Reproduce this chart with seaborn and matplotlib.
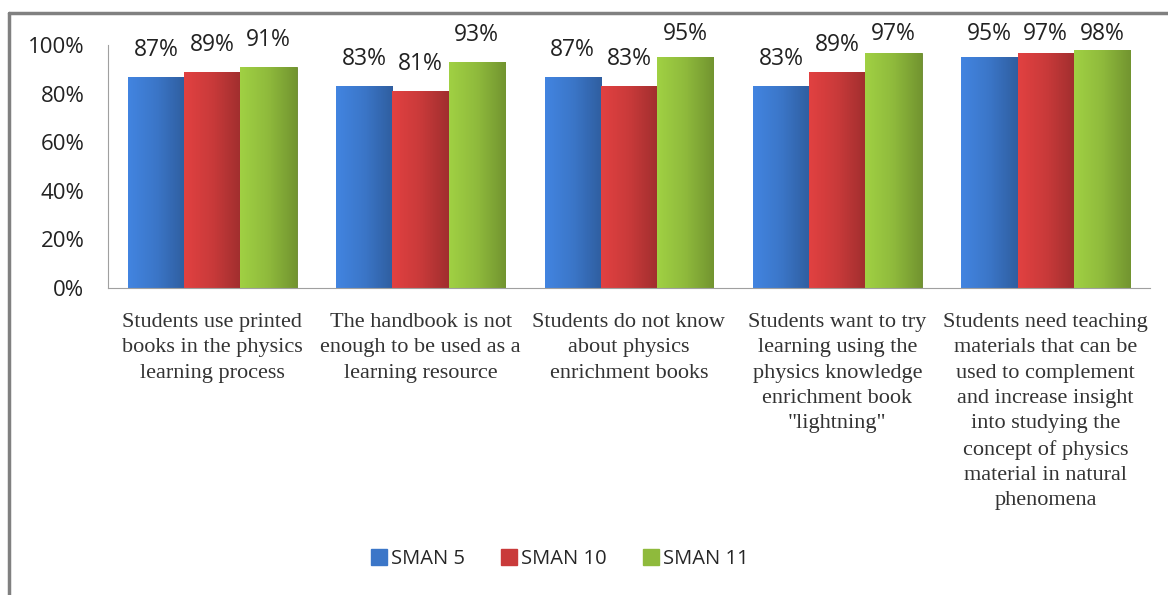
import pandas as pd
import numpy as np
import seaborn as sns
import matplotlib.pyplot as plt
from matplotlib.colors import LinearSegmentedColormap, to_rgb
from matplotlib.lines import Line2D

# data
statements = [
    'Students use printed\nbooks in the physics\nlearning process',
    'The handbook is not\nenough to be used as a\nlearning resource',
    'Students do not know\nabout physics\nenrichment books',
    'Students want to try\nlearning using the\nphysics knowledge\nenrichment book\n"lightning"',
    'Students need teaching\nmaterials that can be\nused to complement\nand increase insight\ninto studying the\nconcept of physics\nmaterial in natural\nphenomena',
]
schools = ['SMAN 5', 'SMAN 10', 'SMAN 11']
sman5 = [87, 83, 87, 83, 95]
sman10 = [89, 81, 83, 89, 97]
sman11 = [91, 93, 95, 97, 98]
colors = ['#3b76c8', '#c93a3a', '#8fba3c']

df = pd.DataFrame({
    'statement': statements * 3,
    'school': [s for s in schools for _ in statements],
    'pct': sman5 + sman10 + sman11,
})

sns.set_style('white')
plt.rcParams['font.family'] = ['Open Sans', 'DejaVu Sans']

fig = plt.figure(figsize=(11.68, 5.95), dpi=100)
ax = fig.add_axes([0.0925, 0.516, 0.892, 0.408])

sns.barplot(data=df, x='statement', y='pct', hue='school', palette=colors,
            width=0.81, saturation=1, ax=ax, legend=True)

# shade every bar with a left-to-right gradient, a bit like the office 3d look
for container, col in zip(ax.containers, colors):
    base = np.array(to_rgb(col))
    cmap = LinearSegmentedColormap.from_list(
        'g', [np.clip(base * 1.12, 0, 1), base, base * 0.8])
    for patch in container:
        x0, y0 = patch.get_x(), patch.get_y()
        w, h = patch.get_width(), patch.get_height()
        im = ax.imshow(np.linspace(0, 1, 50).reshape(1, -1), cmap=cmap,
                       extent=[x0, x0 + w, y0, y0 + h], aspect='auto',
                       zorder=patch.get_zorder() + 0.1)
        im.set_clip_path(patch)
        patch.set_edgecolor(base * 0.7)
        patch.set_linewidth(0.6)
    labels = ax.bar_label(container, fmt='%d%%', padding=11, fontsize=16.5,
                          color='#222222')
    # excel keeps the labels inside the plot area, so the tall ones stack at the top
    for lab in labels:
        x, y = lab.xy
        lab.xy = (x, min(y, 93.5))

ax.set_xlim(-0.5, 4.5)
ax.set_ylim(0, 100)
ax.set_yticks([0, 20, 40, 60, 80, 100])
ax.set_yticklabels([f'{v}%' for v in range(0, 101, 20)], fontsize=16, color='#222222')
ax.set_xticks(range(5))
ax.set_xticklabels(statements, fontsize=16, family=['Liberation Serif'],
                   color='#333333', linespacing=1.45, va='top')
ax.tick_params(axis='y', length=0, pad=17)
ax.tick_params(axis='x', length=0, pad=18)
ax.set_xlabel('')
ax.set_ylabel('')
for side in ['top', 'right']:
    ax.spines[side].set_visible(False)
ax.spines['left'].set_color('#a0a0a0')
ax.spines['bottom'].set_color('#a0a0a0')

ax.legend(handles=[plt.Rectangle((0, 0), 1, 1, color=c) for c in colors],
          labels=schools, loc='center', bbox_to_anchor=(560 / 1168, 1 - 559 / 595),
          bbox_transform=fig.transFigure, ncol=3, frameon=False, fontsize=14.5,
          handlelength=0.8, handleheight=0.8, handletextpad=0.2, columnspacing=1.8)

# grey frame on the left and top like the screenshot
fig.add_artist(Line2D([9 / 1168, 9 / 1168], [0, 1 - 13 / 595], transform=fig.transFigure,
                      color='#808080', lw=2.5))
fig.add_artist(Line2D([9 / 1168, 1], [1 - 13 / 595, 1 - 13 / 595], transform=fig.transFigure,
                      color='#808080', lw=2.5))

fig.savefig('out.png', dpi=100)
